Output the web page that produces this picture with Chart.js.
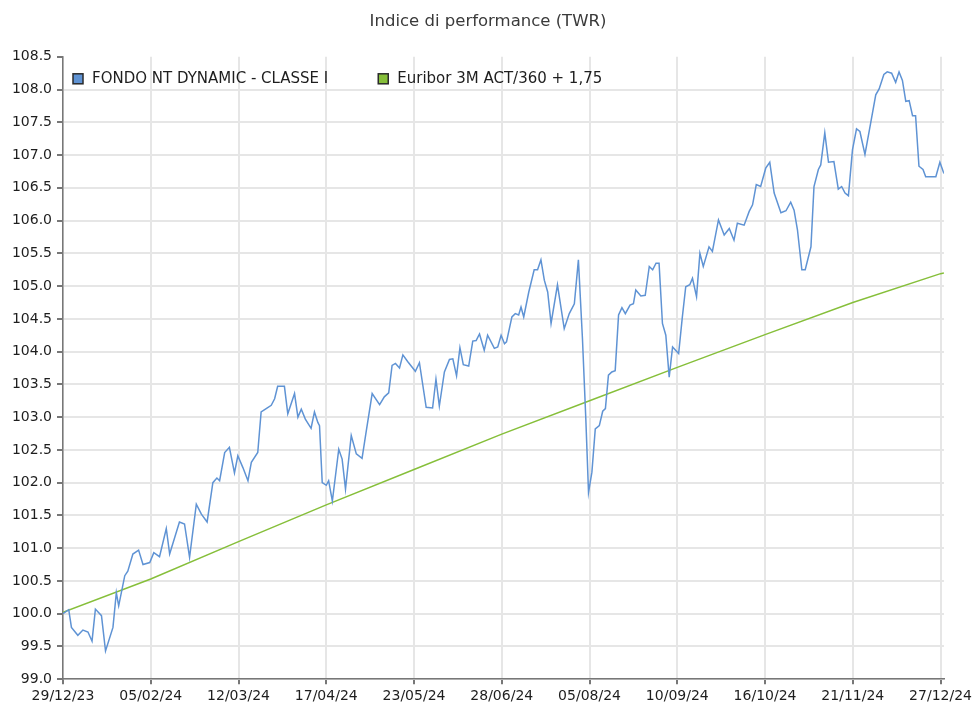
<!DOCTYPE html>
<html>
<head>
<meta charset="utf-8">
<title>Indice di performance (TWR)</title>
<script src="https://cdn.jsdelivr.net/npm/chart.js@4.4.1/dist/chart.umd.min.js"></script>
<style>
  html, body { margin: 0; padding: 0; background: #fff; }
</style>
</head>
<body>
<canvas id="myChart" width="976" height="706"></canvas>
<script>
// x = trading day counted from 29/12/23, one tick label every 26 days
var tickLabels = ["29/12/23", "05/02/24", "12/03/24", "17/04/24", "23/05/24", "28/06/24",
                  "05/08/24", "10/09/24", "16/10/24", "21/11/24", "27/12/24"];

var seriesNames = ["FONDO NT DYNAMIC - CLASSE I", "Euribor 3M ACT/360 + 1,75"];

// [trading day, index value]
var fundSeries = [
  [0,100.00],[1.7,100.06],[2.5,99.79],[4.4,99.67],[5.9,99.75],[7.4,99.72],[8.6,99.58],[9.6,100.07],[11.4,99.97],[12.6,99.43],
  [14.8,99.79],[15.8,100.32],[16.5,100.12],[18.3,100.58],[19.2,100.65],[20.7,100.91],[22.4,100.97],[23.7,100.75],[25.7,100.78],[26.9,100.93],
  [28.6,100.87],[30.6,101.30],[31.6,100.91],[34.5,101.40],[36.0,101.37],[37.5,100.86],[39.5,101.67],[41.0,101.52],[42.7,101.40],[44.4,102.00],
  [45.6,102.07],[46.4,102.03],[47.9,102.46],[49.3,102.54],[50.8,102.15],[51.8,102.41],[53.3,102.23],[54.8,102.03],[55.8,102.31],[57.7,102.46],
  [58.7,103.08],[60.2,103.13],[61.7,103.18],[62.7,103.28],[63.6,103.47],[65.6,103.47],[66.6,103.05],[68.6,103.36],[69.6,103.00],[70.6,103.12],
  [71.8,102.97],[73.5,102.83],[74.5,103.08],[75.5,102.92],[76.0,102.87],[76.8,102.00],[78.0,101.96],[78.7,102.03],[79.8,101.72],[81.7,102.51],
  [82.7,102.36],[83.7,101.90],[85.4,102.72],[86.9,102.44],[88.6,102.37],[89.8,102.77],[91.6,103.36],[93.8,103.19],[95.2,103.31],[96.5,103.37],
  [97.5,103.79],[98.5,103.82],[99.7,103.75],[100.7,103.95],[102.1,103.85],[104.4,103.70],[105.6,103.83],[107.6,103.15],[109.5,103.14],[110.5,103.58],
  [111.5,103.17],[113.0,103.69],[114.5,103.88],[115.5,103.89],[116.6,103.63],[117.6,104.06],[118.6,103.80],[120.2,103.78],[121.4,104.16],[122.4,104.17],
  [123.4,104.27],[124.8,104.02],[125.8,104.25],[127.8,104.05],[128.8,104.07],[129.8,104.25],[130.8,104.12],[131.4,104.15],[133.0,104.53],[134.0,104.58],
  [135.0,104.56],[135.7,104.68],[136.5,104.53],[138.0,104.91],[139.6,105.25],[140.6,105.25],[141.6,105.40],[142.6,105.09],[143.6,104.91],[144.6,104.43],
  [146.5,105.02],[148.5,104.35],[150.0,104.58],[151.5,104.73],[152.7,105.40],[153.9,104.20],[154.9,102.97],[155.7,101.85],[156.7,102.16],[157.7,102.82],
  [158.9,102.87],[159.9,103.09],[160.7,103.13],[161.6,103.64],[162.6,103.69],[163.6,103.71],[164.6,104.56],[165.6,104.67],[166.6,104.58],[168.0,104.71],
  [169.0,104.73],[169.7,104.94],[171.2,104.85],[172.5,104.86],[173.7,105.30],[174.7,105.25],[175.7,105.35],[176.6,105.35],[177.6,104.43],[178.6,104.25],
  [179.6,103.61],[180.6,104.07],[182.4,103.97],[183.5,104.53],[184.5,104.99],[185.7,105.02],[186.5,105.12],[187.7,104.84],[188.7,105.50],[189.7,105.30],
  [191.4,105.60],[192.4,105.53],[194.2,106.01],[195.9,105.78],[197.4,105.88],[198.8,105.70],[199.8,105.96],[201.8,105.93],[203.3,106.14],[204.3,106.24],
  [205.4,106.55],[206.7,106.52],[208.2,106.80],[209.4,106.89],[210.7,106.42],[212.7,106.12],[214.2,106.15],[215.6,106.28],[216.6,106.16],[217.6,105.86],
  [218.9,105.25],[219.9,105.25],[221.6,105.60],[222.5,106.52],[223.8,106.78],[224.5,106.85],[225.7,107.34],[226.8,106.89],[228.4,106.90],[229.7,106.48],
  [230.7,106.52],[231.7,106.42],[232.7,106.38],[233.9,107.08],[235.1,107.40],[236.1,107.36],[237.6,107.01],[239.3,107.49],[240.8,107.92],[241.8,108.01],
  [243.2,108.23],[244.2,108.27],[245.5,108.25],[246.7,108.11],[247.7,108.27],[248.7,108.14],[249.7,107.82],[250.7,107.83],[251.7,107.60],[252.6,107.60],
  [253.6,106.83],[254.8,106.78],[255.6,106.67],[258.6,106.67],[259.8,106.89],[261,106.72]
];

// benchmark line, read at the tick dates
var euriborDays   = [0, 26, 52, 78, 104, 130, 156, 182, 208, 234, 260, 261];
var euriborValues = [100.02, 100.53, 101.10, 101.66, 102.20, 102.74, 103.25, 103.76, 104.26, 104.75, 105.19, 105.20];

var fontName = '"DejaVu Sans", Verdana, sans-serif';

function toPoints(days, values) {
  var pts = [];
  for (var i = 0; i < days.length; i++) {
    pts.push({ x: days[i], y: values[i] });
  }
  return pts;
}

// legend sits inside the plot area, top left, like the original report
var insideLegend = {
  id: 'insideLegend',
  afterDraw: function(chart) {
    var ctx = chart.ctx;
    var area = chart.chartArea;
    var x = area.left + 10;
    var y = area.top + 22;
    ctx.save();
    ctx.font = '15px ' + fontName;
    ctx.textBaseline = 'middle';
    ctx.textAlign = 'left';
    chart.data.datasets.forEach(function(ds) {
      ctx.fillStyle = ds.borderColor;
      ctx.fillRect(x, y - 5, 10, 10);
      ctx.strokeStyle = '#2b2b2b';
      ctx.lineWidth = 1.5;
      ctx.strokeRect(x, y - 5, 10, 10);
      ctx.fillStyle = '#1e1e1e';
      ctx.fillText(ds.label, x + 19, y);
      x += 19 + ctx.measureText(ds.label).width + 50;
    });
    ctx.restore();
  }
};

// no grid line along the top edge, only the tick mark
function gridColor(c) {
  return (c.tick && c.tick.value === 108.5) ? 'rgba(0,0,0,0)' : '#e6e6e6';
}

var ctx = document.getElementById('myChart').getContext('2d');
var chart = new Chart(ctx, {
  type: 'line',
  data: {
    datasets: [{
      label: seriesNames[0],
      data: fundSeries.map(function(p) { return { x: p[0], y: p[1] }; }),
      borderColor: '#5f93d4',
      borderWidth: 1.5,
      pointRadius: 0,
      tension: 0,
      fill: false
    }, {
      label: seriesNames[1],
      data: toPoints(euriborDays, euriborValues),
      borderColor: '#86bf3a',
      borderWidth: 1.5,
      pointRadius: 0,
      tension: 0,
      fill: false
    }]
  },
  options: {
    responsive: false,
    animation: false,
    layout: { padding: { left: 0, right: 0, top: 0, bottom: -3 } },
    plugins: {
      legend: { display: false },
      tooltip: { enabled: false },
      title: {
        display: true,
        text: 'Indice di performance (TWR)',
        color: '#3a3a3a',
        font: { family: fontName, size: 16.5, weight: 'normal' },
        padding: { top: 12, bottom: 25 }
      }
    },
    scales: {
      x: {
        type: 'linear',
        min: 0,
        max: 261,
        grid: { color: '#e6e6e6', lineWidth: 2, tickColor: '#777', tickLength: 5 },
        border: { color: '#777', width: 1.5 },
        ticks: {
          stepSize: 26,
          includeBounds: false,
          autoSkip: false,
          maxRotation: 0,
          padding: 4,
          color: '#1e1e1e',
          font: { family: fontName, size: 14 },
          callback: function(value) { return tickLabels[Math.round(value / 26)]; }
        }
      },
      y: {
        min: 99,
        max: 108.5,
        afterFit: function(scale) { scale.width = 63; },
        grid: { color: gridColor, lineWidth: 2, tickColor: '#777', tickLength: 6 },
        border: { color: '#777', width: 1.5 },
        ticks: {
          stepSize: 0.5,
          padding: 5,
          color: '#1e1e1e',
          font: { family: fontName, size: 14 },
          callback: function(value) { return value.toFixed(1); }
        }
      }
    }
  },
  plugins: [insideLegend]
});
</script>
</body>
</html>
